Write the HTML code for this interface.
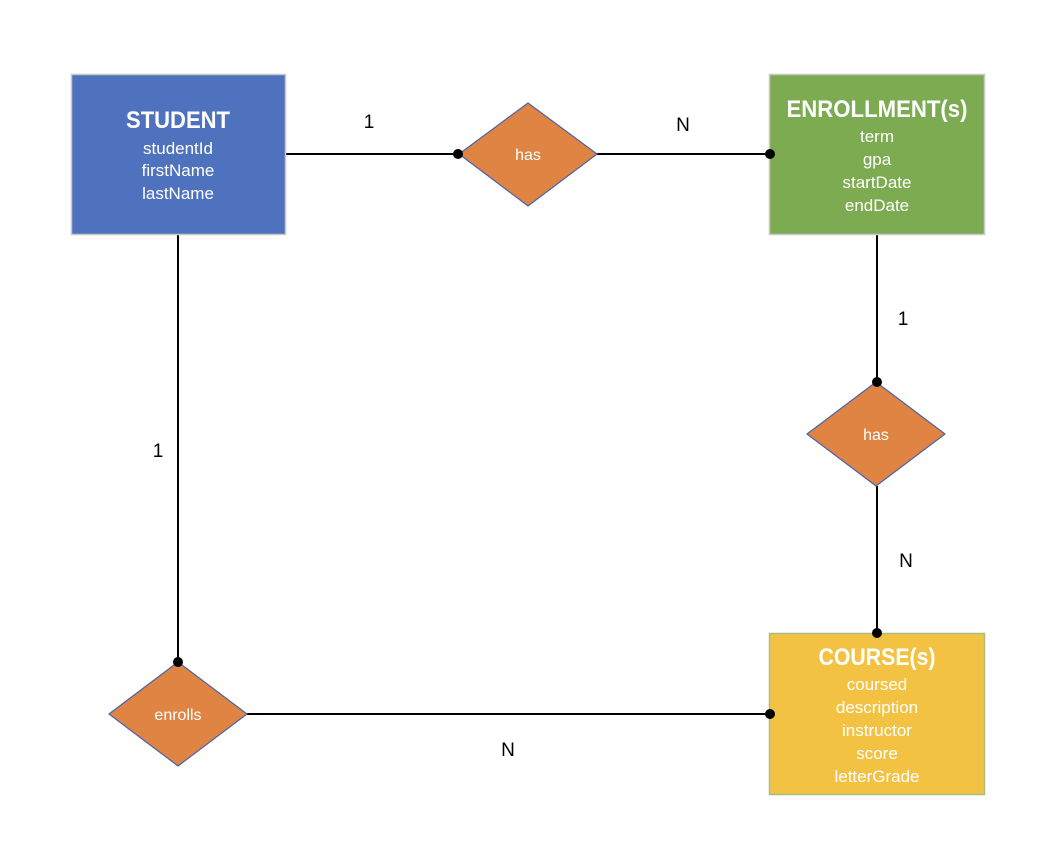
<!DOCTYPE html>
<html><head><style>body{margin:0;background:#fff}svg{display:block}</style></head><body>
<svg width="1048" height="860" xmlns="http://www.w3.org/2000/svg" font-family="Liberation Sans, Arial, sans-serif">
<rect width="1048" height="860" fill="#fff"/>
<g stroke="#000" stroke-width="2" fill="none">
<line x1="285" y1="154" x2="458" y2="154"/>
<line x1="596" y1="154" x2="770" y2="154"/>
<line x1="877" y1="234" x2="877" y2="382"/>
<line x1="877" y1="486" x2="877" y2="633"/>
<line x1="178" y1="234" x2="178" y2="662"/>
<line x1="247" y1="714" x2="770" y2="714"/>
</g>
<rect x="71.5" y="74.5" width="214" height="160" fill="#4f72bf" stroke="#c8c8c8" stroke-width="1.5"/>
<rect x="769.5" y="74.5" width="215" height="160" fill="#7dab51" stroke="#c8c8c8" stroke-width="1.5"/>
<rect x="769.5" y="633.5" width="215" height="161" fill="#f3c242" stroke="#a3c07e" stroke-width="1.5"/>
<g fill="#e08443" stroke="#4a62a8" stroke-width="1.2">
<polygon points="528,103 597,154 528,206 459,154"/>
<polygon points="876,382 945,434 876,486 807,434"/>
<polygon points="178,662 247,714 178,766 109,714"/>
</g>
<g fill="#000">
<circle cx="458" cy="154" r="5"/><circle cx="770" cy="154" r="5"/>
<circle cx="877" cy="382" r="5"/><circle cx="877" cy="633" r="5"/>
<circle cx="178" cy="662" r="5"/><circle cx="770" cy="714" r="5"/>
</g>
<g fill="#fff" text-anchor="middle">
<text x="178" y="128" font-size="24" font-weight="bold" textLength="104" lengthAdjust="spacingAndGlyphs">STUDENT</text>
<g font-size="17"><text x="178" y="154">studentId</text><text x="178" y="176">firstName</text><text x="178" y="199">lastName</text></g>
<text x="877" y="117" font-size="24" font-weight="bold" textLength="181" lengthAdjust="spacingAndGlyphs">ENROLLMENT(s)</text>
<g font-size="17"><text x="877" y="142">term</text><text x="877" y="165">gpa</text><text x="877" y="188">startDate</text><text x="877" y="211">endDate</text></g>
<text x="877" y="665" font-size="24" font-weight="bold" textLength="117" lengthAdjust="spacingAndGlyphs">COURSE(s)</text>
<g font-size="17"><text x="877" y="690">coursed</text><text x="877" y="713">description</text><text x="877" y="736">instructor</text><text x="877" y="759">score</text><text x="877" y="782">letterGrade</text></g>
<g font-size="16"><text x="528" y="160">has</text><text x="876" y="440">has</text><text x="178" y="720">enrolls</text></g>
</g>
<g fill="#000" font-size="19" text-anchor="middle">
<text x="369" y="128">1</text><text x="683" y="131">N</text>
<text x="903" y="325">1</text><text x="906" y="567">N</text>
<text x="158" y="457">1</text><text x="508" y="756">N</text>
</g>
</svg>
</body></html>
